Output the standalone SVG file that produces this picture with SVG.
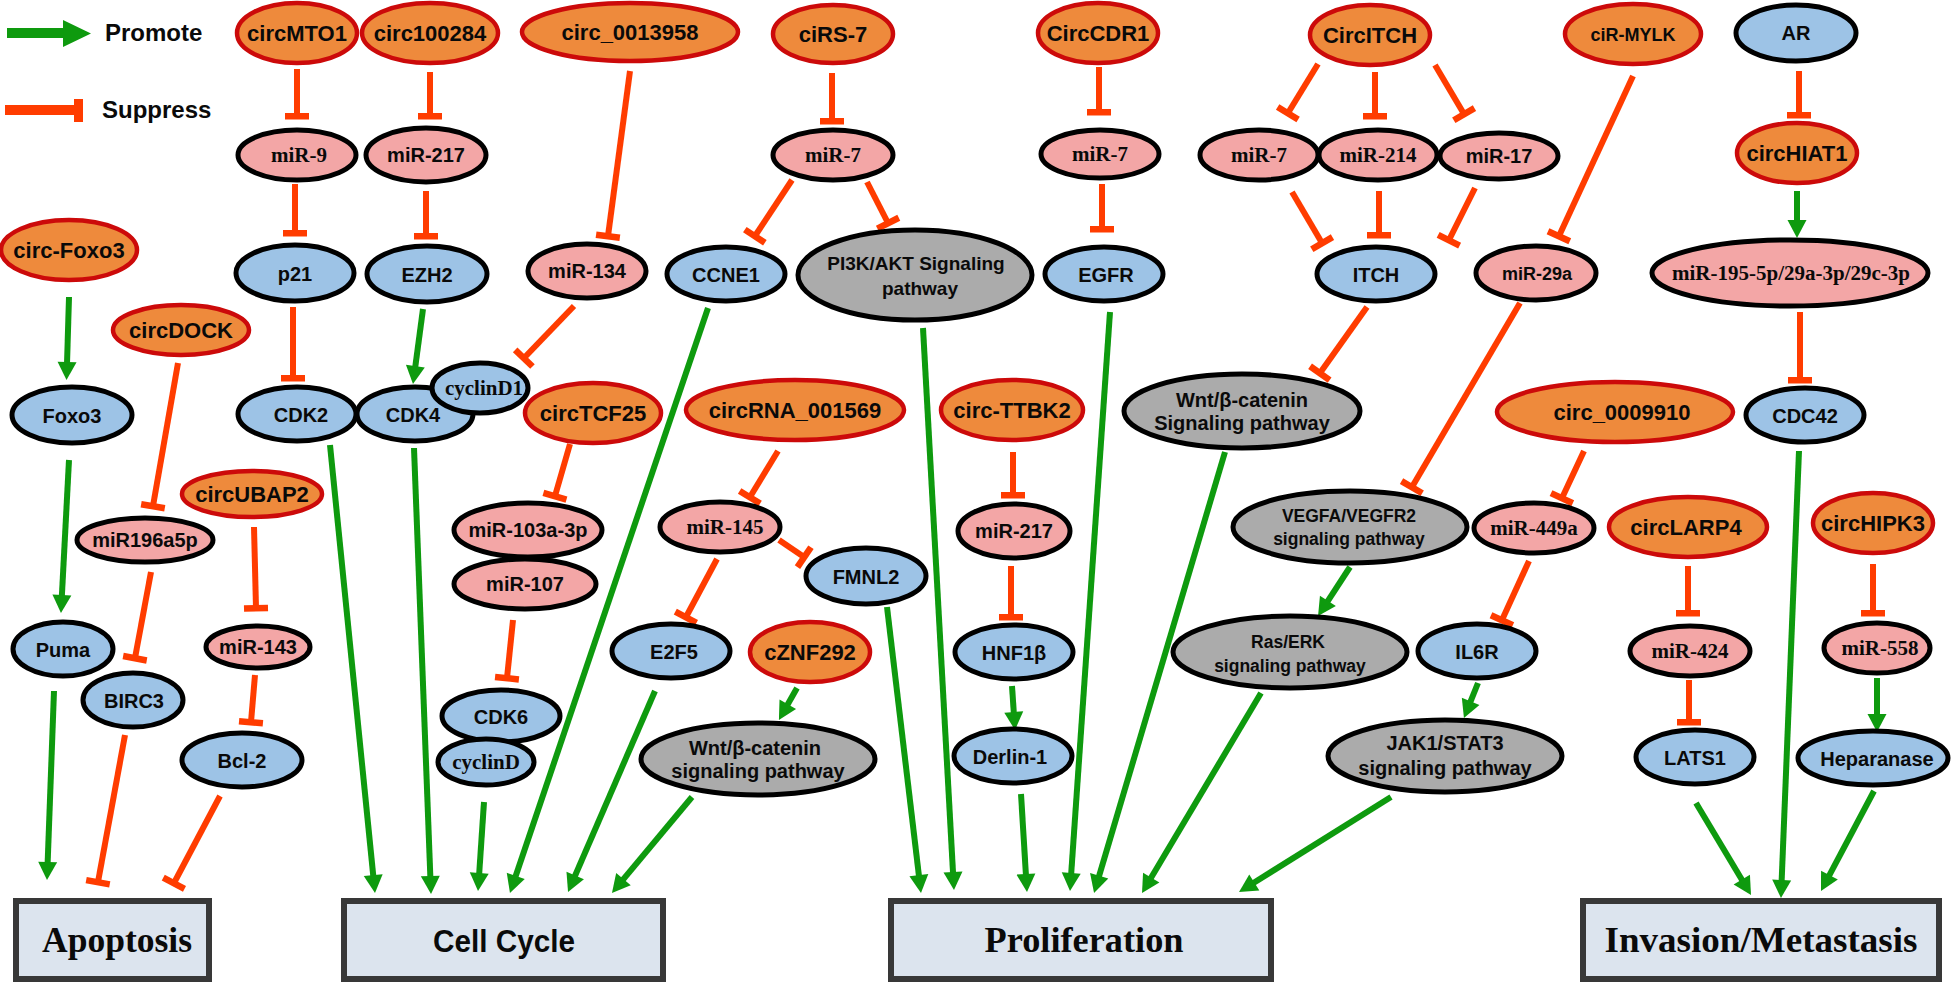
<svg xmlns="http://www.w3.org/2000/svg" width="1951" height="983" viewBox="0 0 1951 983">
<style>
.circ{fill:#EE8A3C;stroke:#CC0A0A;stroke-width:4.5}
.mir{fill:#F3A6A6;stroke:#000;stroke-width:5}
.prot{fill:#9DC3E6;stroke:#000;stroke-width:5}
.pw{fill:#ABABAB;stroke:#000;stroke-width:5}
.box{fill:#DCE4EE;stroke:#383838;stroke-width:6}
text{fill:#0A0A0A;text-anchor:middle}
.ts{font:bold 22px "Liberation Sans",Arial,sans-serif}
.tb{font:bold 20px "Liberation Sans",Arial,sans-serif}
.tm{font:bold 18px "Liberation Sans",Arial,sans-serif}
.tr{font:bold 21px "Liberation Serif","Times New Roman",serif}
.tbox{font:bold 35px "Liberation Serif","Times New Roman",serif}
.tboxs{font:bold 31px "Liberation Sans",Arial,sans-serif}
.leg{font:bold 24px "Liberation Sans",Arial,sans-serif;text-anchor:start}
.sup{stroke:#FF3C00;stroke-width:6;fill:none;marker-end:url(#tbar)}
.pro{stroke:#0E9A0E;stroke-width:6;fill:none;marker-end:url(#arr)}
</style>
<defs>
<marker id="tbar" markerUnits="userSpaceOnUse" orient="auto" markerWidth="40" markerHeight="40" viewBox="-20 -20 40 40" refX="0" refY="0"><rect x="-3" y="-12" width="6.5" height="24" fill="#FF3C00"/></marker>
<marker id="arr" markerUnits="userSpaceOnUse" orient="auto" markerWidth="40" markerHeight="40" viewBox="-20 -20 40 40" refX="0" refY="0"><path d="M-2,-9.5 L16,0 L-2,9.5 Z" fill="#0E9A0E"/></marker>
</defs>
<rect width="1951" height="983" fill="#fff"/>

<g id="legend">
<polygon points="7,28 63,28 63,20 91,33.5 63,47 63,38 7,38" fill="#0E9A0E"/>
<text class="leg" x="105" y="41">Promote</text>
<rect x="5" y="105" width="71" height="10" fill="#FF3C00"/>
<rect x="74" y="99" width="9" height="23" fill="#FF3C00"/>
<text class="leg" x="102" y="118">Suppress</text>
</g>

<g id="connectors">
<line class="sup" x1="297" y1="69" x2="297" y2="116"/>
<line class="sup" x1="430" y1="72" x2="430" y2="116"/>
<line class="sup" x1="295" y1="184" x2="295" y2="233"/>
<line class="sup" x1="426" y1="191" x2="426" y2="236"/>
<line class="sup" x1="293" y1="307" x2="293" y2="378"/>
<line class="sup" x1="630" y1="71" x2="608" y2="236"/>
<line class="sup" x1="832" y1="73" x2="832" y2="121"/>
<line class="sup" x1="792" y1="180" x2="755" y2="236"/>
<line class="sup" x1="867" y1="182" x2="888" y2="223"/>
<line class="sup" x1="574" y1="306" x2="524" y2="358"/>
<line class="sup" x1="1099" y1="67" x2="1099" y2="112"/>
<line class="sup" x1="1102" y1="184" x2="1102" y2="229"/>
<line class="sup" x1="1318" y1="64" x2="1288" y2="113"/>
<line class="sup" x1="1375" y1="72" x2="1375" y2="116"/>
<line class="sup" x1="1435" y1="65" x2="1464" y2="114"/>
<line class="sup" x1="1292" y1="192" x2="1322" y2="243"/>
<line class="sup" x1="1379" y1="191" x2="1379" y2="235"/>
<line class="sup" x1="1475" y1="188" x2="1449" y2="240"/>
<line class="sup" x1="1367" y1="307" x2="1320" y2="373"/>
<line class="sup" x1="1633" y1="76" x2="1559" y2="236"/>
<line class="sup" x1="1799" y1="71" x2="1799" y2="115"/>
<line class="sup" x1="1800" y1="312" x2="1800" y2="380"/>
<line class="sup" x1="1520" y1="303" x2="1412" y2="487"/>
<line class="sup" x1="1584" y1="451" x2="1562" y2="498"/>
<line class="sup" x1="1529" y1="561" x2="1502" y2="620"/>
<line class="sup" x1="1688" y1="566" x2="1688" y2="613"/>
<line class="sup" x1="1873" y1="564" x2="1873" y2="613"/>
<line class="sup" x1="1689" y1="680" x2="1689" y2="722"/>
<line class="sup" x1="178" y1="363" x2="153" y2="506"/>
<line class="sup" x1="151" y1="572" x2="135" y2="658"/>
<line class="sup" x1="254" y1="527" x2="256" y2="608"/>
<line class="sup" x1="255" y1="675" x2="251" y2="722"/>
<line class="sup" x1="125" y1="735" x2="98" y2="882"/>
<line class="sup" x1="220" y1="796" x2="174" y2="883"/>
<line class="sup" x1="570" y1="444" x2="555" y2="496"/>
<line class="sup" x1="513" y1="620" x2="507" y2="678"/>
<line class="sup" x1="778" y1="451" x2="750" y2="497"/>
<line class="sup" x1="779" y1="540" x2="804" y2="557"/>
<line class="sup" x1="717" y1="559" x2="686" y2="617"/>
<line class="sup" x1="1013" y1="452" x2="1013" y2="495"/>
<line class="sup" x1="1011" y1="566" x2="1011" y2="617"/>

<line class="pro" x1="69" y1="297" x2="67" y2="364"/>
<line class="pro" x1="69" y1="460" x2="61.8" y2="597"/>
<line class="pro" x1="54" y1="691" x2="47.6" y2="864"/>
<line class="pro" x1="423" y1="309" x2="415.1" y2="368.1"/>
<line class="pro" x1="330" y1="445" x2="373.4" y2="877.1"/>
<line class="pro" x1="414" y1="448" x2="430.4" y2="878"/>
<line class="pro" x1="484" y1="802" x2="479.1" y2="875"/>
<line class="pro" x1="708" y1="308" x2="515.1" y2="877.8"/>
<line class="pro" x1="655" y1="691" x2="574.4" y2="877.3"/>
<line class="pro" x1="692" y1="797" x2="622.2" y2="880.7"/>
<line class="pro" x1="797" y1="688" x2="786.8" y2="706"/>
<line class="pro" x1="887" y1="607" x2="919.1" y2="877.1"/>
<line class="pro" x1="923" y1="328" x2="953.1" y2="874"/>
<line class="pro" x1="1012" y1="686" x2="1013.9" y2="714"/>
<line class="pro" x1="1021" y1="794" x2="1026" y2="876"/>
<line class="pro" x1="1110" y1="312" x2="1071.1" y2="875"/>
<line class="pro" x1="1225" y1="452" x2="1098.6" y2="877.7"/>
<line class="pro" x1="1350" y1="567" x2="1326.8" y2="602.6"/>
<line class="pro" x1="1261" y1="693" x2="1150.2" y2="879.3"/>
<line class="pro" x1="1478" y1="683" x2="1469.9" y2="703.2"/>
<line class="pro" x1="1391" y1="797" x2="1252.6" y2="883.5"/>
<line class="pro" x1="1797" y1="191" x2="1797" y2="222"/>
<line class="pro" x1="1799" y1="451" x2="1781.6" y2="882"/>
<line class="pro" x1="1877" y1="678" x2="1877" y2="716"/>
<line class="pro" x1="1696" y1="803" x2="1742.8" y2="881.3"/>
<line class="pro" x1="1874" y1="791" x2="1828.5" y2="876.9"/>
</g>

<g id="n-circ-foxo3"><ellipse class="circ" cx="69" cy="250" rx="68" ry="30"/><text class="ts" x="69" y="258">circ-Foxo3</text></g>
<g id="n-circmto1"><ellipse class="circ" cx="297" cy="33" rx="60" ry="30"/><text class="ts" x="297" y="41">circMTO1</text></g>
<g id="n-circ100284"><ellipse class="circ" cx="430" cy="33" rx="68" ry="30"/><text class="ts" x="430" y="41">circ100284</text></g>
<g id="n-circ0013958"><ellipse class="circ" cx="630" cy="32" rx="108" ry="29"/><text class="ts" x="630" y="40">circ_0013958</text></g>
<g id="n-cirs7"><ellipse class="circ" cx="833" cy="34" rx="60" ry="29"/><text class="ts" x="833" y="42">ciRS-7</text></g>
<g id="n-circcdr1"><ellipse class="circ" cx="1098" cy="33" rx="60" ry="30"/><text class="ts" x="1098" y="41">CircCDR1</text></g>
<g id="n-circitch"><ellipse class="circ" cx="1370" cy="35" rx="60" ry="30"/><text class="ts" x="1370" y="43">CircITCH</text></g>
<g id="n-cirmylk"><ellipse class="circ" cx="1633" cy="34" rx="68" ry="30"/><text class="tm" x="1633" y="41">ciR-MYLK</text></g>
<g id="n-ar"><ellipse class="prot" cx="1796" cy="33" rx="60" ry="28"/><text class="tb" x="1796" y="40">AR</text></g>

<g id="n-mir9"><ellipse class="mir" cx="297" cy="155" rx="59" ry="25"/><text class="tr" x="299" y="162">miR-9</text></g>
<g id="n-mir217a"><ellipse class="mir" cx="426" cy="155" rx="60" ry="27"/><text class="tb" x="426" y="162">miR-217</text></g>
<g id="n-mir7a"><ellipse class="mir" cx="833" cy="155" rx="60" ry="25"/><text class="tr" x="833" y="162">miR-7</text></g>
<g id="n-mir7b"><ellipse class="mir" cx="1100" cy="154" rx="59" ry="24"/><text class="tr" x="1100" y="161">miR-7</text></g>
<g id="n-mir7c"><ellipse class="mir" cx="1259" cy="155" rx="59" ry="25"/><text class="tr" x="1259" y="162">miR-7</text></g>
<g id="n-mir214"><ellipse class="mir" cx="1378" cy="155" rx="59" ry="25"/><text class="tr" x="1378" y="162">miR-214</text></g>
<g id="n-mir17"><ellipse class="mir" cx="1499" cy="156" rx="59" ry="23"/><text class="tb" x="1499" y="163">miR-17</text></g>
<g id="n-circhiat1"><ellipse class="circ" cx="1797" cy="153" rx="60" ry="30"/><text class="ts" x="1797" y="161">circHIAT1</text></g>

<g id="n-p21"><ellipse class="prot" cx="295" cy="273" rx="59" ry="28"/><text class="tb" x="295" y="281">p21</text></g>
<g id="n-ezh2"><ellipse class="prot" cx="427" cy="274" rx="60" ry="28"/><text class="tb" x="427" y="282">EZH2</text></g>
<g id="n-mir134"><ellipse class="mir" cx="587" cy="271" rx="59" ry="27"/><text class="tb" x="587" y="278">miR-134</text></g>
<g id="n-ccne1"><ellipse class="prot" cx="726" cy="274" rx="59" ry="27"/><text class="tb" x="726" y="282">CCNE1</text></g>
<g id="n-pi3k"><ellipse class="pw" cx="915" cy="275" rx="117" ry="45"/><text class="tb" x="916" y="270" style="font-size:19px">PI3K/AKT Signaling</text><text class="tb" x="920" y="295" style="font-size:19px">pathway</text></g>
<g id="n-egfr"><ellipse class="prot" cx="1104" cy="274" rx="59" ry="27"/><text class="tb" x="1106" y="282">EGFR</text></g>
<g id="n-itch"><ellipse class="prot" cx="1376" cy="274" rx="59" ry="27"/><text class="tb" x="1376" y="282">ITCH</text></g>
<g id="n-mir29a"><ellipse class="mir" cx="1536" cy="273" rx="60" ry="27"/><text class="tm" x="1537" y="280">miR-29a</text></g>
<g id="n-mir195"><ellipse class="mir" cx="1790" cy="273" rx="138" ry="33"/><text class="tr" x="1791" y="280">miR-195-5p/29a-3p/29c-3p</text></g>

<g id="n-circdock"><ellipse class="circ" cx="181" cy="330" rx="68" ry="25"/><text class="ts" x="181" y="338">circDOCK</text></g>
<g id="n-foxo3"><ellipse class="prot" cx="72" cy="415" rx="60" ry="28"/><text class="tb" x="72" y="423">Foxo3</text></g>
<g id="n-cdk2"><ellipse class="prot" cx="297" cy="414" rx="59" ry="27"/><text class="tb" x="301" y="422">CDK2</text></g>
<g id="n-cdk4"><ellipse class="prot" cx="415" cy="414" rx="58" ry="27"/><text class="tb" x="413" y="422">CDK4</text></g>
<g id="n-cyclind1"><ellipse class="prot" cx="480" cy="388" rx="48" ry="25"/><text class="tr" x="484" y="395">cyclinD1</text></g>
<g id="n-circtcf25"><ellipse class="circ" cx="593" cy="413" rx="68" ry="30"/><text class="ts" x="593" y="421">circTCF25</text></g>
<g id="n-circrna001569"><ellipse class="circ" cx="795" cy="410" rx="109" ry="30"/><text class="ts" x="795" y="418">circRNA_001569</text></g>
<g id="n-circttbk2"><ellipse class="circ" cx="1012" cy="410" rx="71" ry="30"/><text class="ts" x="1012" y="418">circ-TTBK2</text></g>
<g id="n-wnt1"><ellipse class="pw" cx="1242" cy="411" rx="118" ry="37"/><text class="tb" x="1242" y="407">Wnt/β-catenin</text><text class="tb" x="1242" y="430">Signaling pathway</text></g>
<g id="n-circ0009910"><ellipse class="circ" cx="1615" cy="412" rx="118" ry="30"/><text class="ts" x="1622" y="420">circ_0009910</text></g>
<g id="n-cdc42"><ellipse class="prot" cx="1805" cy="415" rx="59" ry="27"/><text class="tb" x="1805" y="423">CDC42</text></g>

<g id="n-circubap2"><ellipse class="circ" cx="252" cy="494" rx="70" ry="23"/><text class="ts" x="252" y="502">circUBAP2</text></g>
<g id="n-mir196a5p"><ellipse class="mir" cx="145" cy="540" rx="68" ry="22"/><text class="tb" x="145" y="547">miR196a5p</text></g>
<g id="n-mir103a"><ellipse class="mir" cx="528" cy="530" rx="74" ry="27"/><text class="tb" x="528" y="537">miR-103a-3p</text></g>
<g id="n-mir107"><ellipse class="mir" cx="525" cy="584" rx="71" ry="25"/><text class="tb" x="525" y="591">miR-107</text></g>
<g id="n-mir145"><ellipse class="mir" cx="720" cy="527" rx="60" ry="25"/><text class="tr" x="725" y="534">miR-145</text></g>
<g id="n-fmnl2"><ellipse class="prot" cx="866" cy="576" rx="60" ry="28"/><text class="tb" x="866" y="584">FMNL2</text></g>
<g id="n-mir217b"><ellipse class="mir" cx="1014" cy="531" rx="56" ry="27"/><text class="tb" x="1014" y="538">miR-217</text></g>
<g id="n-vegfa"><ellipse class="pw" cx="1350" cy="527" rx="117" ry="36"/><text class="tb" x="1349" y="522" style="font-size:17.5px">VEGFA/VEGFR2</text><text class="tb" x="1349" y="545" style="font-size:17.5px">signaling pathway</text></g>
<g id="n-mir449a"><ellipse class="mir" cx="1534" cy="528" rx="60" ry="25"/><text class="tr" x="1534" y="535">miR-449a</text></g>
<g id="n-circlarp4"><ellipse class="circ" cx="1688" cy="527" rx="79" ry="30"/><text class="ts" x="1686" y="535">circLARP4</text></g>
<g id="n-circhipk3"><ellipse class="circ" cx="1873" cy="523" rx="60" ry="30"/><text class="ts" x="1873" y="531">circHIPK3</text></g>

<g id="n-puma"><ellipse class="prot" cx="63" cy="649" rx="50" ry="27"/><text class="tb" x="63" y="657">Puma</text></g>
<g id="n-mir143"><ellipse class="mir" cx="258" cy="647" rx="52" ry="21"/><text class="tb" x="258" y="654">miR-143</text></g>
<g id="n-e2f5"><ellipse class="prot" cx="671" cy="651" rx="59" ry="27"/><text class="tb" x="674" y="659">E2F5</text></g>
<g id="n-cznf292"><ellipse class="circ" cx="810" cy="652" rx="60" ry="30"/><text class="ts" x="810" y="660">cZNF292</text></g>
<g id="n-hnf1b"><ellipse class="prot" cx="1014" cy="652" rx="59" ry="27"/><text class="tb" x="1014" y="660">HNF1β</text></g>
<g id="n-raserk"><ellipse class="pw" cx="1290" cy="652" rx="117" ry="36"/><text class="tb" x="1288" y="648" style="font-size:17.5px">Ras/ERK</text><text class="tb" x="1290" y="672" style="font-size:17.5px">signaling pathway</text></g>
<g id="n-il6r"><ellipse class="prot" cx="1477" cy="651" rx="59" ry="27"/><text class="tb" x="1477" y="659">IL6R</text></g>
<g id="n-mir424"><ellipse class="mir" cx="1690" cy="651" rx="60" ry="25"/><text class="tr" x="1690" y="658">miR-424</text></g>
<g id="n-mir558"><ellipse class="mir" cx="1877" cy="648" rx="53" ry="25"/><text class="tr" x="1880" y="655">miR-558</text></g>

<g id="n-birc3"><ellipse class="prot" cx="133" cy="700" rx="50" ry="27"/><text class="tb" x="134" y="708">BIRC3</text></g>
<g id="n-cdk6"><ellipse class="prot" cx="501" cy="716" rx="59" ry="26"/><text class="tb" x="501" y="724">CDK6</text></g>
<g id="n-cyclind"><ellipse class="prot" cx="486" cy="762" rx="48" ry="23"/><text class="tr" x="486" y="769">cyclinD</text></g>
<g id="n-bcl2"><ellipse class="prot" cx="242" cy="760" rx="60" ry="27"/><text class="tb" x="242" y="768">Bcl-2</text></g>
<g id="n-wnt2"><ellipse class="pw" cx="758" cy="759" rx="117" ry="36"/><text class="tb" x="755" y="755">Wnt/β-catenin</text><text class="tb" x="758" y="778">signaling pathway</text></g>
<g id="n-derlin1"><ellipse class="prot" cx="1013" cy="756" rx="59" ry="27"/><text class="tb" x="1010" y="764">Derlin-1</text></g>
<g id="n-jak1"><ellipse class="pw" cx="1445" cy="756" rx="117" ry="36"/><text class="tb" x="1445" y="750">JAK1/STAT3</text><text class="tb" x="1445" y="775">signaling pathway</text></g>
<g id="n-lats1"><ellipse class="prot" cx="1695" cy="757" rx="59" ry="27"/><text class="tb" x="1695" y="765">LATS1</text></g>
<g id="n-heparanase"><ellipse class="prot" cx="1873" cy="758" rx="75" ry="27"/><text class="tb" x="1877" y="766">Heparanase</text></g>

<g id="n-apoptosis"><rect class="box" x="16" y="901" width="193" height="78"/><text class="tbox" x="117" y="952" textLength="150" lengthAdjust="spacingAndGlyphs">Apoptosis</text></g>
<g id="n-cellcycle"><rect class="box" x="344" y="901" width="319" height="78"/><text class="tboxs" x="504" y="952" textLength="142" lengthAdjust="spacingAndGlyphs">Cell Cycle</text></g>
<g id="n-proliferation"><rect class="box" x="891" y="901" width="380" height="78"/><text class="tbox" x="1084" y="952" textLength="199" lengthAdjust="spacingAndGlyphs">Proliferation</text></g>
<g id="n-invasion"><rect class="box" x="1583" y="901" width="356" height="78"/><text class="tbox" x="1761" y="952" textLength="313" lengthAdjust="spacingAndGlyphs">Invasion/Metastasis</text></g>
</svg>
